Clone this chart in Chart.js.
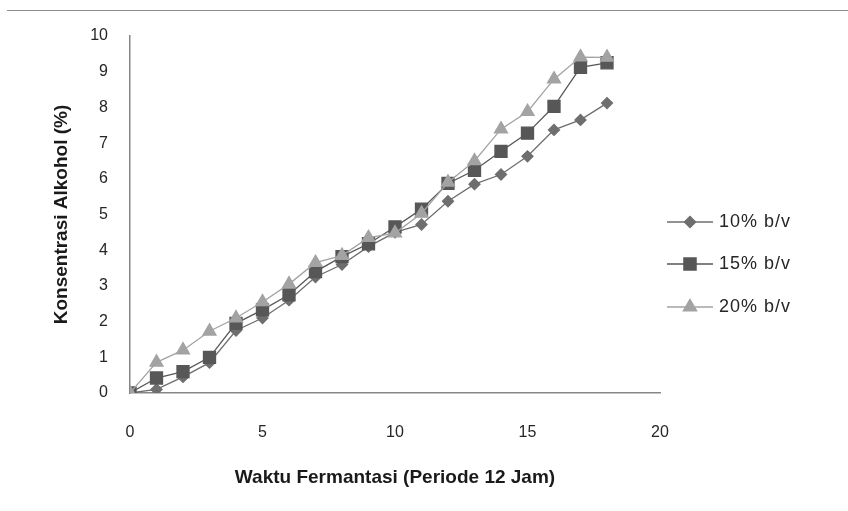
<!DOCTYPE html>
<html>
<head>
<meta charset="utf-8">
<script src="https://cdn.jsdelivr.net/npm/chart.js@4"></script>
<style>
  body { margin: 0; background: #fff; }
  #wrap { position: relative; width: 848px; height: 511px; }
  #garis { position: absolute; left: 7px; right: 0; top: 10px; border-top: 1px solid #8c8c8c; }
</style>
</head>
<body>
<div id="wrap">
  <div id="garis"></div>
  <canvas id="alkoholChart"></canvas>
</div>
<script>
// Data
const waktu = [0, 1, 2, 3, 4, 5, 6, 7, 8, 9, 10, 11, 12, 13, 14, 15, 16, 17, 18];
const konsentrasi10 = [0, 0.1, 0.45, 0.85, 1.75, 2.1, 2.6, 3.25, 3.6, 4.1, 4.5, 4.72, 5.37, 5.85, 6.12, 6.63, 7.37, 7.65, 8.12];
const konsentrasi15 = [0, 0.42, 0.6, 1.0, 1.95, 2.33, 2.75, 3.4, 3.82, 4.18, 4.65, 5.15, 5.87, 6.24, 6.77, 7.28, 8.03, 9.12, 9.25];
const konsentrasi20 = [0, 0.86, 1.2, 1.73, 2.1, 2.55, 3.05, 3.65, 3.85, 4.35, 4.48, 5.03, 5.9, 6.5, 7.39, 7.88, 8.79, 9.41, 9.4];
const labelSeri = ['10% b/v', '15% b/v', '20% b/v'];
const xTicks = [0, 5, 10, 15, 20];
const yTicks = [0, 1, 2, 3, 4, 5, 6, 7, 8, 9, 10];

const toPoints = (vals) => vals.map((v, i) => ({ x: waktu[i], y: v }));

// legend drawn by hand so it sits where the original one is
const legendKanan = {
  id: 'legendKanan',
  afterDraw(chart) {
    const ctx = chart.ctx;
    const ys = [222, 264, 307];
    chart.data.datasets.forEach((ds, i) => {
      const y = ys[i];
      ctx.save();
      ctx.strokeStyle = ds.borderColor;
      ctx.lineWidth = 1.5;
      ctx.beginPath();
      ctx.moveTo(667, y);
      ctx.lineTo(713, y);
      ctx.stroke();
      ctx.fillStyle = ds.pointBackgroundColor;
      ctx.strokeStyle = ds.pointBackgroundColor;
      Chart.helpers.drawPoint(ctx, { pointStyle: ds.pointStyle, radius: ds.pointRadius, rotation: 0, borderWidth: 1 }, 690, y);
      ctx.fillStyle = '#262626';
      ctx.font = '18px "Liberation Sans", Arial, sans-serif';
      ctx.letterSpacing = '1px';
      ctx.textBaseline = 'middle';
      ctx.textAlign = 'left';
      ctx.fillText(ds.label, 719, y);
      ctx.restore();
    });
  }
};

document.addEventListener('DOMContentLoaded', function () {
  const ctx = document.getElementById('alkoholChart');
  const font = { family: '"Liberation Sans", Arial, sans-serif', size: 16 };

  new Chart(ctx, {
    type: 'line',
    data: {
      datasets: [
        {
          label: labelSeri[0], data: toPoints(konsentrasi10), order: 2,
          borderColor: '#6e6e6e', backgroundColor: '#6e6e6e',
          pointBackgroundColor: '#6e6e6e', pointBorderColor: '#6e6e6e',
          pointStyle: 'rectRot', pointRadius: 5.5, borderWidth: 1.3
        },
        {
          label: labelSeri[1], data: toPoints(konsentrasi15), order: 1,
          borderColor: '#575757', backgroundColor: '#575757',
          pointBackgroundColor: '#575757', pointBorderColor: '#575757',
          pointStyle: 'rect', pointRadius: 8.5, borderWidth: 1.3
        },
        {
          label: labelSeri[2], data: toPoints(konsentrasi20), order: 0,
          borderColor: '#a3a3a3', backgroundColor: '#a3a3a3',
          pointBackgroundColor: '#a3a3a3', pointBorderColor: '#a3a3a3',
          pointStyle: 'triangle', pointRadius: 7.5, borderWidth: 1.3
        }
      ]
    },
    options: {
      responsive: true,
      maintainAspectRatio: false,
      animation: false,
      layout: { padding: { top: 36, right: 188, bottom: 0, left: 0 } },
      plugins: {
        legend: { display: false },
        tooltip: { enabled: false }
      },
      scales: {
        x: {
          type: 'linear',
          min: 0, max: 20,
          afterBuildTicks: (s) => { s.ticks = xTicks.map(v => ({ value: v })); },
          afterFit: (s) => { s.height = 118; },
          grid: { display: false, drawTicks: false },
          border: { display: true, color: '#878787', width: 1.5 },
          ticks: { color: '#262626', font: font, padding: 30 },
          title: {
            display: true,
            text: 'Waktu Fermantasi (Periode 12 Jam)',
            color: '#1a1a1a',
            font: { family: font.family, size: 19, weight: 'bold' },
            padding: { top: 0, bottom: 22 }
          }
        },
        y: {
          min: 0, max: 10,
          afterBuildTicks: (s) => { s.ticks = yTicks.map(v => ({ value: v })); },
          afterFit: (s) => { s.width = 130; },
          grid: { display: false, drawTicks: false },
          border: { display: true, color: '#878787', width: 1.5 },
          ticks: { color: '#262626', font: font, padding: 22 },
          title: {
            display: true,
            text: 'Konsentrasi Alkohol (%)',
            color: '#1a1a1a',
            font: { family: font.family, size: 19, weight: 'bold' },
            padding: { top: 50, bottom: 0 }
          }
        }
      }
    },
    plugins: [legendKanan]
  });
});
</script>
</body>
</html>
